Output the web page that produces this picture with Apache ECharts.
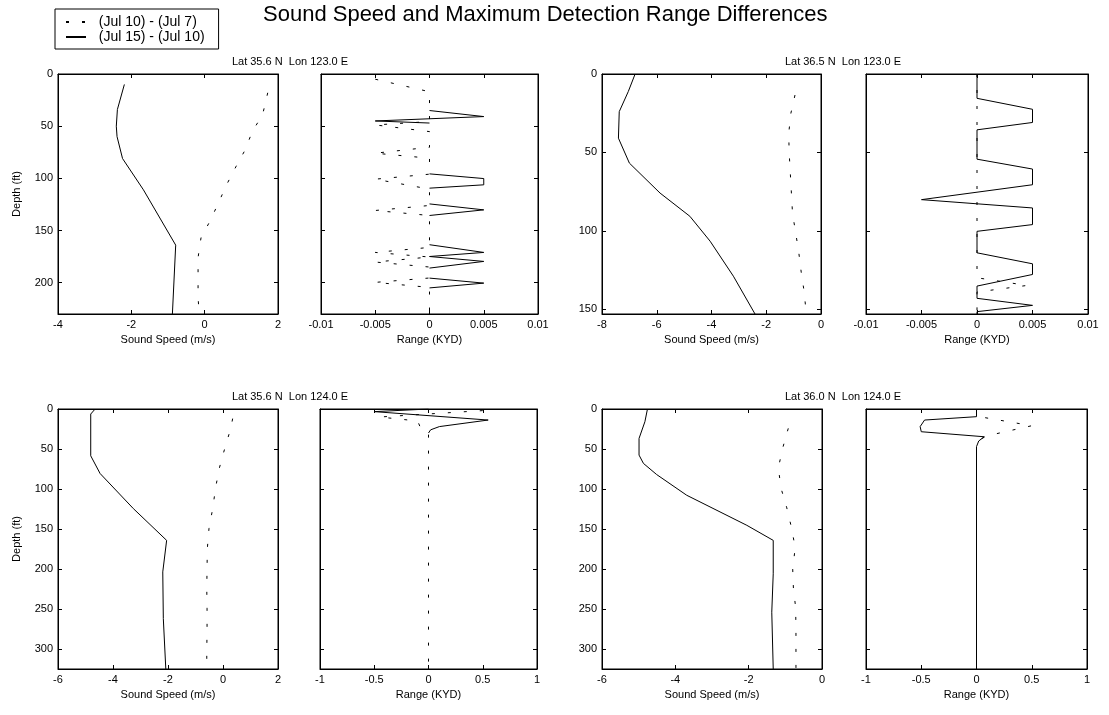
<!DOCTYPE html>
<html><head><meta charset="utf-8">
<script src="https://cdn.jsdelivr.net/npm/echarts@6/dist/echarts.min.js"></script>
<style>html,body{margin:0;padding:0;background:#fff}#c{width:1109px;height:715px}</style>
</head><body><div id="c"></div>
<script>
// ---------- DATA ----------
const NAME1 = '(Jul 10) - (Jul 7)';
const NAME2 = '(Jul 15) - (Jul 10)';
const mainTitle = 'Sound Speed and Maximum Detection Range Differences';
const locTitles = ['Lat 35.6 N  Lon 123.0 E', 'Lat 36.5 N  Lon 123.0 E', 'Lat 35.6 N  Lon 124.0 E', 'Lat 36.0 N  Lon 124.0 E'];
const speedLabel = 'Sound Speed (m/s)';
const rangeLabel = 'Range (KYD)';
const depthLabel = 'Depth (ft)';

// axis extents [min, max, interval]
const speedAxisA = [-4, 2, 2];
const speedAxisB = [-8, 0, 2];
const speedAxisC = [-6, 2, 2];
const speedAxisD = [-6, 0, 2];
const rangeAxisAB = [-0.01, 0.01, 0.005];
const rangeAxisCD = [-1, 1, 0.5];
const depthMaxA = 230, depthMaxB = 153, depthMaxC = 325, depthMaxD = 325;

// [value, depth(ft)]
const speed1A = [[1.72,18],[1.58,39],[1.30,55],[1.10,73],[0.85,89],[0.60,106],[0.37,124],[0.145,141],[-0.10,157],[-0.18,176],[-0.18,195],[-0.18,214],[-0.15,230]];
const speed2A = [[-2.19,10],[-2.38,34],[-2.41,50],[-2.39,60],[-2.24,81],[-1.67,111],[-0.79,164],[-0.88,230]];
const range1A = [[-0.005,5],[0,17],[0,45.6],[-0.005,48.8],[0,55.2],[0,70.2],[-0.005,75.9],[0,80.7],[0,96],[-0.005,100.8],[0,110.3],[0,126],[-0.005,130.8],[0,135.6],[0,166.2],[-0.005,171],[0,175.4],[-0.005,180.2],[0,185],[0,195.5],[-0.005,199.7],[0,204.5],[0,230]];
const range2A = [[0,35],[0.005,40.8],[-0.005,45],[0,47],'-',[0,95.7],[0.005,100.2],[0.005,106.2],[0,109.4],'-',[0,124.5],[0.005,130.2],[0.005,130.9],[0,135.6],'-',[0,163.6],[0.005,171],[0,174.9],[0.005,179.6],[0,186],'-',[0,195.6],[0.005,200.4],[0,205]];

const speed1B = [[-0.95,13.4],[-1.10,25],[-1.18,38],[-1.16,51],[-1.12,63.6],[-1.08,76.3],[-1.04,89],[-0.92,101.7],[-0.81,114],[-0.72,126.7],[-0.61,139.4],[-0.55,151],[-0.54,153]];
const speed2B = [[-6.79,0],[-7.04,11.2],[-7.37,24],[-7.40,40.9],[-7.0,56.8],[-5.88,75.9],[-4.79,90.7],[-4.05,106.6],[-3.20,128.9],[-2.41,153]];
const range1B = [[0,0],[0,129.9],[0.0045,134.8],[0,139],[0,153]];
const range2B = [[0,0],[0,15.5],[0.005,22.5],[0.005,30.9],[0,35.6],[0,54.3],[0.005,60.6],[0.005,70.6],[-0.005,80.1],[0.005,85.4],[0.005,96],[0,100.3],[0,114],[0.005,121],[0.005,127.8],[0,135.2],[0,143],[0.005,147.5],[0,151.5],[0,153]];

const speed1C = [[0.35,12],[0.29,23.4],[0.07,48.5],[-0.13,73.5],[-0.27,98.5],[-0.37,123.6],[-0.51,149.5],[-0.57,174.6],[-0.58,199.6],[-0.59,224.7],[-0.58,249.8],[-0.58,277],[-0.59,302],[-0.59,325]];
const speed2C = [[-4.65,0],[-4.81,6.3],[-4.81,58.5],[-4.47,80.6],[-3.26,124.5],[-2.05,164.2],[-2.19,203.6],[-2.17,262],[-2.08,325]];
const range1C = [[0.5,2],[-0.45,10],[-0.1,15],[-0.06,28],[0,32],[0,325]];
const range2C = [[0,0],[-0.5,3.3],[0.55,13.8],[0.1,22],[0.02,26],[0,30]];

const speed1D = [[-0.92,24.2],[-1.07,48.5],[-1.19,73.5],[-1.12,98.6],[-0.96,123.6],[-0.83,148.7],[-0.73,173.8],[-0.80,198.8],[-0.78,223.9],[-0.72,247.7],[-0.71,274],[-0.71,299.1],[-0.71,325]];
const speed2D = [[-4.76,0],[-4.83,15.9],[-4.99,36.8],[-4.99,57.6],[-4.87,68],[-4.51,81.9],[-3.69,107.8],[-2.05,145.4],[-1.33,164.2],[-1.33,206],[-1.37,254],[-1.33,325]];
const range1D = [[0,0],[0,9],[0.5,20.9],[0.1,33.4],[0,40],[0,325]];
const range2D = [[0,0],[0,9.6],[-0.47,13.8],[-0.51,22],[-0.5,28.4],[0.07,34.7],[0.02,40],[0,47],[0,325]];

// ---------- LAYOUT ----------
const FONT = 'Liberation Sans, Arial, Helvetica, sans-serif';
const panels = [
  {grid:{left:58, top:74, width:220, height:240}, x:speedAxisA, yMax:depthMaxA, xName:speedLabel, yLabels:true, yName:depthLabel, s1:speed1A, s2:speed2A},
  {grid:{left:321, top:74, width:217, height:240}, x:rangeAxisAB, yMax:depthMaxA, xName:rangeLabel, yLabels:false, s1:range1A, s2:range2A},
  {grid:{left:602, top:74, width:219, height:240}, x:speedAxisB, yMax:depthMaxB, xName:speedLabel, yLabels:true, s1:speed1B, s2:speed2B},
  {grid:{left:866, top:74, width:222, height:240}, x:rangeAxisAB, yMax:depthMaxB, xName:rangeLabel, yLabels:false, s1:range1B, s2:range2B},
  {grid:{left:58, top:409, width:220, height:260}, x:speedAxisC, yMax:depthMaxC, xName:speedLabel, yLabels:true, yName:depthLabel, s1:speed1C, s2:speed2C},
  {grid:{left:320, top:409, width:217, height:260}, x:rangeAxisCD, yMax:depthMaxC, xName:rangeLabel, yLabels:false, s1:range1C, s2:range2C},
  {grid:{left:602, top:409, width:220, height:260}, x:speedAxisD, yMax:depthMaxD, xName:speedLabel, yLabels:true, s1:speed1D, s2:speed2D},
  {grid:{left:866, top:409, width:221, height:260}, x:rangeAxisCD, yMax:depthMaxD, xName:rangeLabel, yLabels:false, s1:range1D, s2:range2D}
];
const titlePos = [[290,62],[843,62],[290,397],[843,397]];

const grid = [], xAxis = [], yAxis = [], series = [];
const lineCol = '#000';
const dotted = [3, 13];
panels.forEach((p, g) => {
  grid.push(Object.assign({show:true, borderColor:'#000', borderWidth:1, containLabel:false}, p.grid));
  const tickStyle = {show:true, inside:true, length:4, lineStyle:{color:'#000', width:1}};
  xAxis.push({type:'value', gridIndex:g, position:'bottom', min:p.x[0], max:p.x[1], interval:p.x[2],
    axisLine:{show:true, onZero:false, lineStyle:{color:'#000'}}, axisTick:tickStyle, splitLine:{show:false},
    axisLabel:{color:'#000', fontSize:11, fontFamily:FONT, margin:5},
    name:p.xName, nameLocation:'middle', nameGap:20, nameTextStyle:{color:'#000', fontSize:11, fontFamily:FONT}});
  xAxis.push({type:'value', gridIndex:g, position:'top', min:p.x[0], max:p.x[1], interval:p.x[2],
    axisLine:{show:true, onZero:false, lineStyle:{color:'#000'}}, axisTick:tickStyle, splitLine:{show:false}, axisLabel:{show:false}});
  yAxis.push({type:'value', gridIndex:g, position:'left', inverse:true, min:0, max:p.yMax, interval:50,
    axisLine:{show:true, onZero:false, lineStyle:{color:'#000'}}, axisTick:tickStyle, splitLine:{show:false},
    axisLabel:{show:p.yLabels, color:'#000', fontSize:11, fontFamily:FONT, margin:5, formatter:v => (v % 50 === 0 ? String(v) : '')},
    name:p.yName || '', nameLocation:'middle', nameGap:36, nameRotate:90, nameTextStyle:{color:'#000', fontSize:11, fontFamily:FONT}});
  yAxis.push({type:'value', gridIndex:g, position:'right', inverse:true, min:0, max:p.yMax, interval:50,
    axisLine:{show:true, onZero:false, lineStyle:{color:'#000'}}, axisTick:tickStyle, splitLine:{show:false}, axisLabel:{show:false}});
  series.push({name:NAME1, type:'line', xAxisIndex:2*g, yAxisIndex:2*g, data:p.s1, showSymbol:false, symbol:'none', silent:true,
    lineStyle:{color:lineCol, width:1, type:dotted}, itemStyle:{color:lineCol}, animation:false});
  series.push({name:NAME2, type:'line', xAxisIndex:2*g, yAxisIndex:2*g, data:p.s2, showSymbol:false, symbol:'none', silent:true,
    lineStyle:{color:lineCol, width:1, type:'solid'}, itemStyle:{color:lineCol}, animation:false});
});

const graphic = [{type:'text', x:263, y:15, style:{text:mainTitle, fill:'#000', font:'22px ' + FONT, textAlign:'left', textVerticalAlign:'middle'}}];
locTitles.forEach((t, i) => {
  graphic.push({type:'text', x:titlePos[i][0], y:titlePos[i][1], style:{text:t, fill:'#000', font:'11px ' + FONT, textAlign:'center', textVerticalAlign:'middle'}});
});

const chart = echarts.init(document.getElementById('c'), null, {renderer:'canvas'});
chart.setOption({
  animation:false,
  backgroundColor:'#fff',
  legend:{data:[NAME1, NAME2], orient:'vertical', left:55, top:9, itemWidth:20, itemHeight:12, itemGap:1,
    padding:[6,14,5,10], borderColor:'#000', borderWidth:1, selectedMode:false,
    itemStyle:{opacity:0}, formatter:n => '  ' + n,
    textStyle:{color:'#000', fontSize:14, fontFamily:FONT}},
  grid, xAxis, yAxis, series, graphic
});
</script></body></html>
